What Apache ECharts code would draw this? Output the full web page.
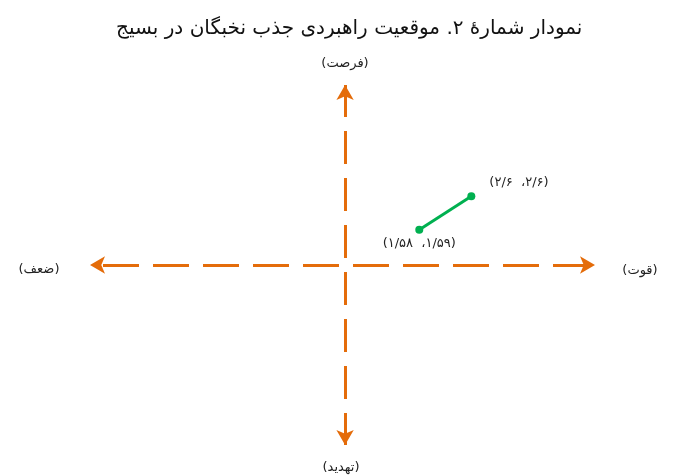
<!DOCTYPE html>
<html>
<head>
<meta charset="utf-8">
<script src="https://cdn.jsdelivr.net/npm/echarts@6/dist/echarts.min.js"></script>
<style>
  html, body { margin: 0; padding: 0; background: #fff; }
  #chart { width: 673px; height: 476px; }
</style>
</head>
<body>
<div id="chart"></div>
<script>
// مختصات نقاط (امتیاز داخلی، امتیاز خارجی)
const xValues = [1.59, 2.6];
const yValues = [1.58, 2.6];
// برچسب محورها
const axisNames = { top: '(فرصت)', bottom: '(تهدید)', left: '(ضعف)', right: '(قوت)' };
const titleText = 'نمودار شمارهٔ ۲. موقعیت راهبردی جذب نخبگان در بسیج';

const orange = '#E46C0A';
const green = '#00B050';
const faFont = 'DejaVu Sans';

// تبدیل عدد به ارقام فارسی با ممیز «/»
function toFa(v) {
  const digits = '۰۱۲۳۴۵۶۷۸۹';
  return String(v).replace('.', '/').replace(/\d/g, d => digits[+d]);
}

function axisText(text, x, y) {
  return {
    type: 'text',
    x: x,
    y: y,
    style: { text: text, font: '13px "DejaVu Sans"', fill: '#222', align: 'center', verticalAlign: 'middle' }
  };
}

const chart = echarts.init(document.getElementById('chart'));

const option = {
  animation: false,
  title: {
    text: titleText,
    left: 111,
    top: 14,
    textStyle: { fontFamily: faFont, fontSize: 20, fontWeight: 'normal', color: '#111' }
  },
  grid: { left: 90, right: 78, top: 85, bottom: 31 },
  xAxis: { type: 'value', min: -4.8, max: 5, show: false },
  yAxis: { type: 'value', min: -5, max: 6, show: false },
  graphic: [
    axisText(axisNames.top, 345, 64),
    axisText(axisNames.bottom, 341, 468),
    axisText(axisNames.left, 39, 270),
    axisText(axisNames.right, 640, 271)
  ],
  series: [
    {
      type: 'line',
      data: xValues.map((x, i) => [x, yValues[i]]),
      symbol: 'circle',
      symbolSize: 8,
      lineStyle: { color: green, width: 3 },
      itemStyle: { color: green },
      label: {
        show: true,
        fontFamily: faFont,
        fontSize: 13,
        color: '#222',
        formatter: p => '(' + toFa(p.value[1]) + '  ،' + toFa(p.value[0]) + ')'
      },
      emphasis: { disabled: true },
      markLine: {
        silent: true,
        symbol: ['arrow', 'arrow'],
        symbolSize: [13, 15],
        label: { show: false },
        data: [
          // محور افقی
          { yAxis: 0.5, lineStyle: { color: orange, width: 3, type: [36, 14], dashOffset: 37 } },
          // محور عمودی
          { xAxis: 0.15, lineStyle: { color: orange, width: 3, type: [33, 14], dashOffset: 1 } }
        ]
      }
    }
  ]
};

// موقعیت برچسب هر نقطه
option.series[0].data = option.series[0].data.map((v, i) => ({
  value: v,
  label: i === 0
    ? { position: 'bottom', distance: 3 }
    : { position: 'right', distance: 14, offset: [0, -14] }
}));

chart.setOption(option);
</script>
</body>
</html>
